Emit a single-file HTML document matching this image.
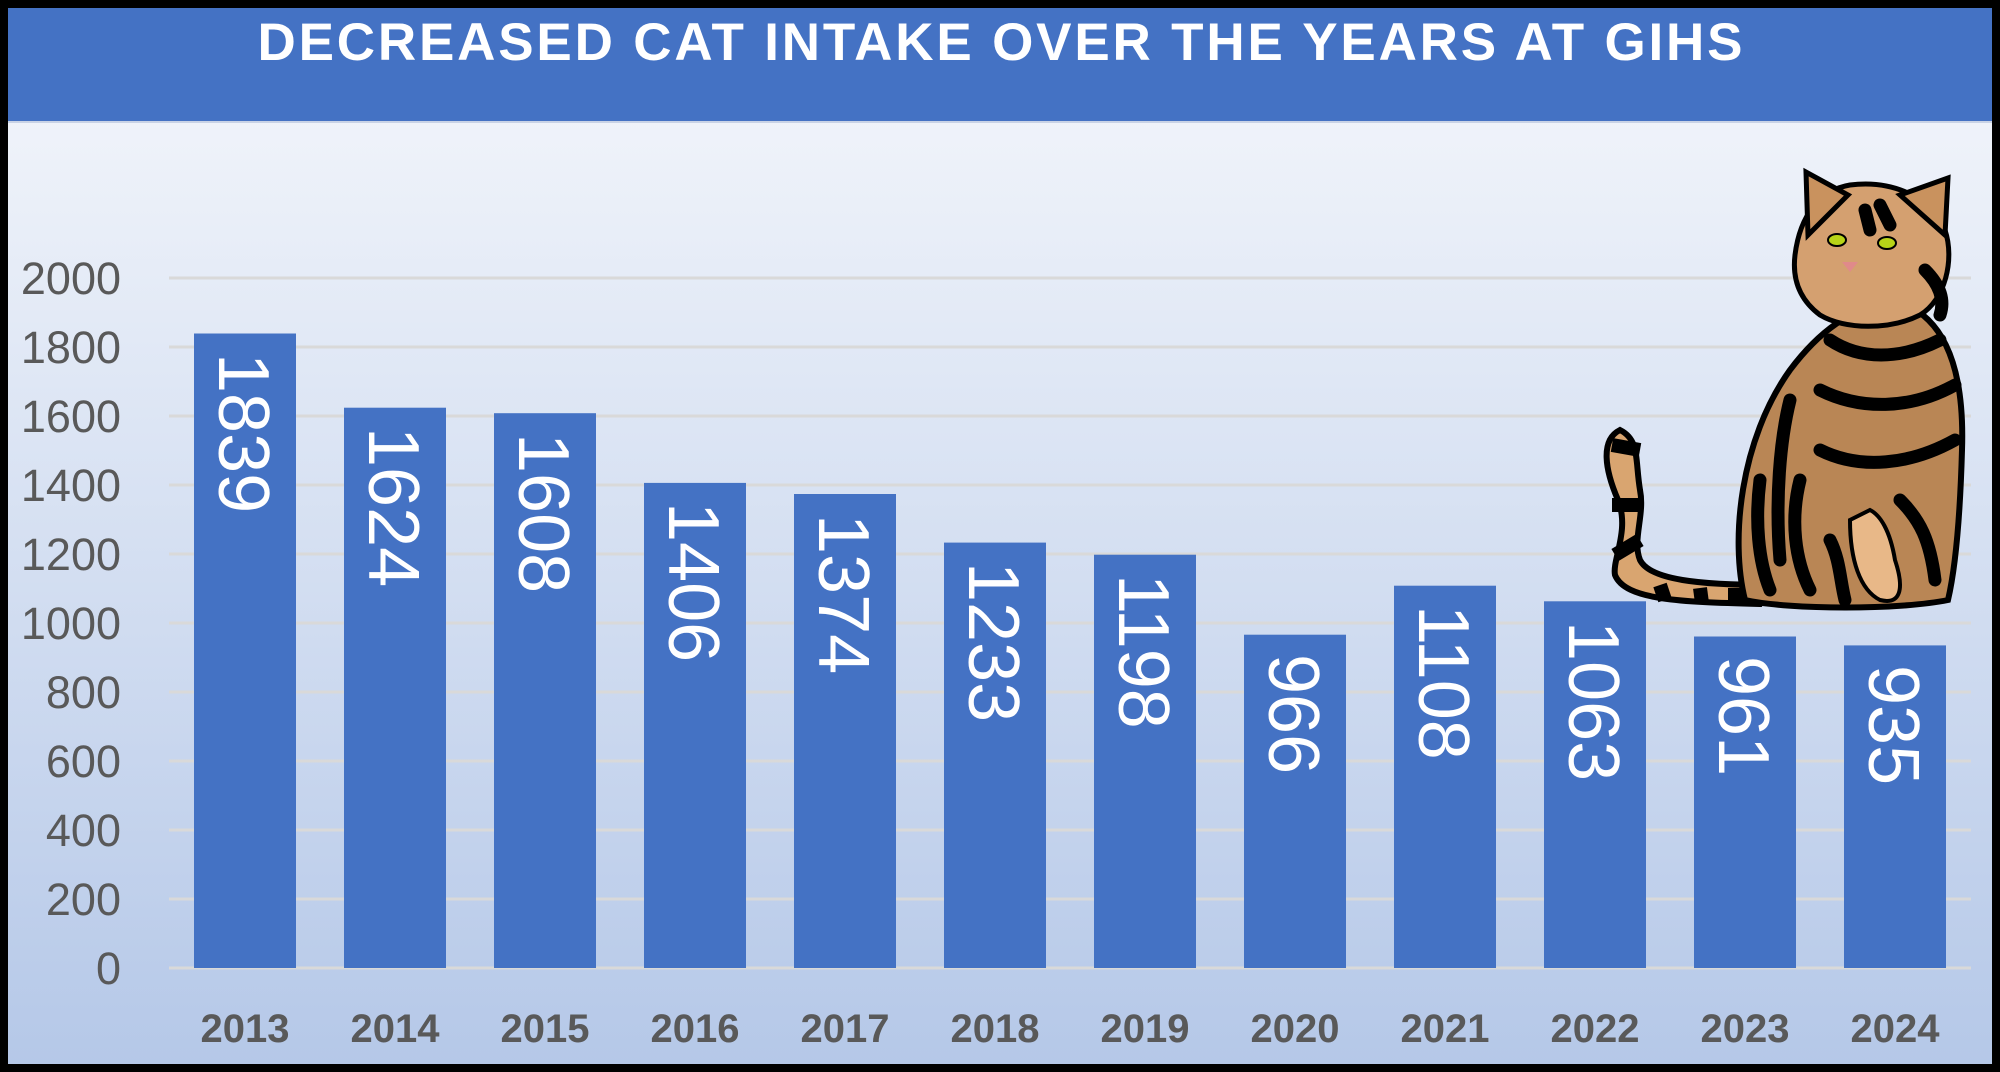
<!DOCTYPE html>
<html><head><meta charset="utf-8"><style>
html,body{margin:0;padding:0;background:#000;}
svg{display:block}
</style></head><body>
<svg width="2000" height="1072" viewBox="0 0 2000 1072" xmlns="http://www.w3.org/2000/svg">
<defs>
<linearGradient id="bg" x1="0" y1="0" x2="0" y2="1">
<stop offset="0" stop-color="#f6f8fc"/>
<stop offset="1" stop-color="#b5c8e8"/>
</linearGradient>
</defs>
<rect x="0" y="0" width="2000" height="1072" fill="#000"/>
<rect x="8" y="8" width="1984" height="1056" fill="url(#bg)"/>
<rect x="8" y="8" width="1984" height="114" fill="#4472c4"/>
<rect x="8" y="121" width="1984" height="2" fill="#c9d3e6"/>
<text x="1000" y="60" text-anchor="middle" font-family="Liberation Sans, sans-serif" font-weight="bold" font-size="53" fill="#fff" textLength="1485" lengthAdjust="spacing">DECREASED CAT INTAKE OVER THE YEARS AT GIHS</text>
<g stroke="#d9d9d9" stroke-width="3">
<line x1="169" x2="1971" y1="278" y2="278"/>
<line x1="169" x2="1971" y1="347" y2="347"/>
<line x1="169" x2="1971" y1="416" y2="416"/>
<line x1="169" x2="1971" y1="485" y2="485"/>
<line x1="169" x2="1971" y1="554" y2="554"/>
<line x1="169" x2="1971" y1="623" y2="623"/>
<line x1="169" x2="1971" y1="692" y2="692"/>
<line x1="169" x2="1971" y1="761" y2="761"/>
<line x1="169" x2="1971" y1="830" y2="830"/>
<line x1="169" x2="1971" y1="899" y2="899"/>
<line x1="169" x2="1971" y1="968" y2="968"/>
</g>
<g font-family="Liberation Sans, sans-serif" font-size="45" fill="#595959" text-anchor="end">
<text x="121" y="294">2000</text><text x="121" y="363">1800</text><text x="121" y="432">1600</text>
<text x="121" y="501">1400</text><text x="121" y="570">1200</text><text x="121" y="639">1000</text>
<text x="121" y="708">800</text><text x="121" y="777">600</text><text x="121" y="846">400</text>
<text x="121" y="915">200</text><text x="121" y="984">0</text>
</g>
<g fill="#4472c4">
<rect x="194" y="333.5" width="102" height="634.5"/>
<rect x="344" y="407.7" width="102" height="560.3"/>
<rect x="494" y="413.2" width="102" height="554.8"/>
<rect x="644" y="482.9" width="102" height="485.1"/>
<rect x="794" y="494" width="102" height="474"/>
<rect x="944" y="542.6" width="102" height="425.4"/>
<rect x="1094" y="554.7" width="102" height="413.3"/>
<rect x="1244" y="634.7" width="102" height="333.3"/>
<rect x="1394" y="585.7" width="102" height="382.3"/>
<rect x="1544" y="601.3" width="102" height="366.7"/>
<rect x="1694" y="636.5" width="102" height="331.5"/>
<rect x="1844" y="645.4" width="102" height="322.6"/>
</g>
<g font-family="Liberation Sans, sans-serif" font-size="72" fill="#fff">
<text transform="translate(219,353) rotate(90)">1839</text>
<text transform="translate(369,427) rotate(90)">1624</text>
<text transform="translate(519,433) rotate(90)">1608</text>
<text transform="translate(669,502) rotate(90)">1406</text>
<text transform="translate(819,514) rotate(90)">1374</text>
<text transform="translate(969,562) rotate(90)">1233</text>
<text transform="translate(1119,574) rotate(90)">1198</text>
<text transform="translate(1269,654) rotate(90)">966</text>
<text transform="translate(1419,605) rotate(90)">1108</text>
<text transform="translate(1569,621) rotate(90)">1063</text>
<text transform="translate(1719,656) rotate(90)">961</text>
<text transform="translate(1869,665) rotate(90)">935</text>
</g>
<g font-family="Liberation Sans, sans-serif" font-weight="bold" font-size="40" fill="#595959" text-anchor="middle">
<text x="245" y="1042">2013</text><text x="395" y="1042">2014</text><text x="545" y="1042">2015</text>
<text x="695" y="1042">2016</text><text x="845" y="1042">2017</text><text x="995" y="1042">2018</text>
<text x="1145" y="1042">2019</text><text x="1295" y="1042">2020</text><text x="1445" y="1042">2021</text>
<text x="1595" y="1042">2022</text><text x="1745" y="1042">2023</text><text x="1895" y="1042">2024</text>
</g>
<!-- cat -->
<g>
<path d="M1620 430 C1600 440 1605 470 1618 500 C1630 530 1612 560 1615 575 C1625 600 1680 602 1760 604 L1770 585 C1700 585 1650 580 1640 560 C1632 540 1645 515 1640 490 C1635 460 1640 440 1620 430 Z" fill="#d9a570" stroke="#000" stroke-width="6"/>
<g stroke="#000" stroke-width="14">
<line x1="1612" y1="445" x2="1640" y2="450"/><line x1="1612" y1="505" x2="1640" y2="505"/>
<line x1="1615" y1="555" x2="1640" y2="540"/><line x1="1660" y1="585" x2="1665" y2="600"/>
<line x1="1700" y1="588" x2="1702" y2="603"/><line x1="1735" y1="588" x2="1735" y2="604"/>
</g>
<path d="M1745 600 C1730 540 1740 440 1790 370 C1820 330 1850 310 1890 300 C1940 310 1965 360 1962 450 C1960 520 1955 570 1948 600 C1900 610 1790 610 1745 600 Z" fill="#b98655" stroke="#000" stroke-width="6"/>
<path d="M1795 255 C1800 215 1820 190 1850 185 C1890 180 1930 195 1945 230 C1955 260 1945 300 1920 315 C1890 330 1845 330 1820 315 C1800 300 1792 280 1795 255 Z" fill="#d4a070" stroke="#000" stroke-width="5"/>
<path d="M1808 235 L1806 172 L1848 195 Z" fill="#c9925e" stroke="#000" stroke-width="5"/>
<path d="M1900 195 L1948 178 L1945 235 Z" fill="#c9925e" stroke="#000" stroke-width="5"/>
<ellipse cx="1837" cy="240" rx="9" ry="6" fill="#b8d418" stroke="#000" stroke-width="2"/>
<ellipse cx="1887" cy="243" rx="9" ry="6" fill="#b8d418" stroke="#000" stroke-width="2"/>
<path d="M1842 262 L1858 262 L1850 272 Z" fill="#e08a8a"/>
<g stroke="#000" stroke-width="13" fill="none" stroke-linecap="round">
<path d="M1790 400 C1780 440 1775 500 1780 560"/>
<path d="M1830 340 C1860 360 1900 360 1940 340"/>
<path d="M1820 390 C1860 410 1910 410 1955 385"/>
<path d="M1820 450 C1860 470 1910 465 1955 440"/>
<path d="M1800 480 C1790 520 1795 560 1810 590"/>
<path d="M1900 500 C1920 520 1930 540 1935 580"/>
<path d="M1760 480 C1755 520 1758 560 1770 590"/>
<path d="M1830 540 C1840 560 1840 580 1845 600"/>
<path d="M1865 210 L1870 230"/><path d="M1880 205 L1890 225"/>
<path d="M1925 270 C1940 285 1945 300 1940 315"/>
</g>
<path d="M1850 520 C1850 560 1860 590 1880 600 C1900 605 1905 590 1895 560 C1890 530 1880 515 1870 510 Z" fill="#e8b888" stroke="#000" stroke-width="4"/>
</g>
</svg>
</body></html>
